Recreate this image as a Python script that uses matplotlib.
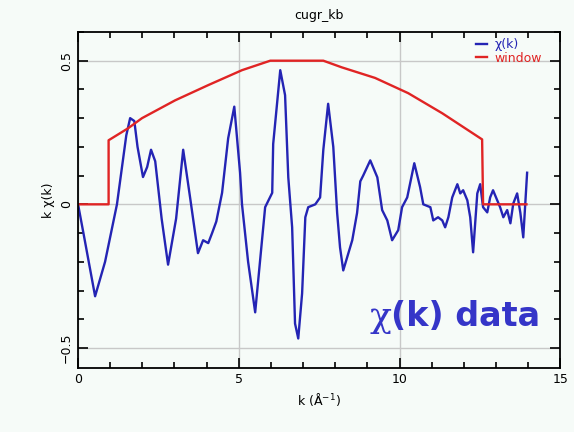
import numpy as np
import matplotlib.pyplot as plt
from matplotlib.ticker import MultipleLocator, FuncFormatter

# chi(k) trace
k = [0, 0.2, 0.53, 0.84, 1.21, 1.5, 1.62, 1.75, 1.85, 2.02, 2.15, 2.27, 2.4, 2.6, 2.80,
     3.05, 3.27, 3.49, 3.73, 3.89, 4.05, 4.17, 4.30, 4.48, 4.67, 4.86, 5.04, 5.10,
     5.29, 5.51, 5.82, 6.04, 6.07, 6.29, 6.44, 6.54, 6.66, 6.75, 6.85, 6.97, 7.07,
     7.16, 7.38, 7.53, 7.63, 7.78, 7.94, 8.06, 8.15, 8.25, 8.53, 8.68, 8.78, 8.87,
     9.09, 9.31, 9.46, 9.62, 9.77, 9.96, 10.08, 10.24, 10.46, 10.64, 10.74, 10.96,
     11.05, 11.20, 11.33, 11.42, 11.52, 11.64, 11.80, 11.89, 11.98, 12.11, 12.20,
     12.29, 12.42, 12.51, 12.60, 12.73, 12.82, 12.91, 13.04, 13.13, 13.23, 13.35,
     13.45, 13.54, 13.66, 13.76, 13.85, 13.97]
chi = [0, -0.12, -0.32, -0.2, 0.0, 0.24, 0.30, 0.29, 0.2, 0.095, 0.13, 0.19, 0.15, -0.05, -0.21,
       -0.05, 0.19, 0.02, -0.17, -0.125, -0.135, -0.10, -0.06, 0.04, 0.23, 0.34, 0.11, 0.0,
       -0.2, -0.376, -0.01, 0.04, 0.21, 0.467, 0.38, 0.094, -0.08, -0.415, -0.467, -0.31, -0.045,
       -0.01, 0.0, 0.024, 0.19, 0.35, 0.2, -0.03, -0.15, -0.23, -0.125, -0.03, 0.08, 0.1,
       0.153, 0.094, -0.02, -0.056, -0.125, -0.09, -0.01, 0.024, 0.143, 0.06, 0.0, -0.01,
       -0.056, -0.045, -0.056, -0.08, -0.045, 0.024, 0.07, 0.038, 0.049, 0.014, -0.045,
       -0.167, 0.038, 0.07, -0.01, -0.028, 0.024, 0.049, 0.014, -0.01, -0.045, -0.02,
       -0.066, 0.003, 0.038, -0.03, -0.115, 0.11]

# window function
kw = [0, 0.95, 0.95, 1.56, 1.99, 3.02, 4.05, 5.1, 5.98, 7.63, 8.2, 9.24, 10.27, 11.33,
      12.57, 12.6, 13.95]
win = [0, 0, 0.223, 0.265, 0.30, 0.362, 0.415, 0.467, 0.5, 0.5, 0.477, 0.44, 0.387,
       0.317, 0.226, 0, 0]

bg = '#f6fbf8'
blue = '#2424b4'
red = '#e02424'

fig = plt.figure(figsize=(5.74, 4.32), dpi=100, facecolor=bg)
ax = fig.add_axes([0.136, 0.148, 0.840, 0.778], facecolor=bg)

ax.plot(k, chi, color=blue, lw=1.7, label='χ(k)')
ax.plot(kw, win, color=red, lw=1.7, label='window')

ax.set_xlim(0, 15)
ax.set_ylim(-0.57, 0.6)
ax.xaxis.set_major_locator(MultipleLocator(5))
ax.xaxis.set_minor_locator(MultipleLocator(1))
ax.yaxis.set_major_locator(MultipleLocator(0.5))
ax.yaxis.set_minor_locator(MultipleLocator(0.1))
ax.yaxis.set_major_formatter(
    FuncFormatter(lambda v, p: ('%g' % v).replace('-', '\u2212') if abs(v) > 1e-9 else '0'))
ax.tick_params(which='both', direction='in', top=True, right=True, width=1.2,
               labelsize=9)
ax.tick_params(which='major', length=7)
ax.tick_params(which='minor', length=4)
for lbl in ax.get_yticklabels():
    lbl.set_rotation(90)
    lbl.set_va('center')
ax.grid(True, which='major', color='#c8c8c8', lw=1)
for s in ax.spines.values():
    s.set_linewidth(1.3)

ax.set_xlabel('k (Å$^{-1}$)', fontsize=9)
ax.set_ylabel('k χ(k)', fontsize=9)
ax.set_title('cugr_kb', fontsize=9, pad=9)

leg = ax.legend(loc='upper right', frameon=False, fontsize=9, handlelength=0.9,
                handletextpad=0.6, labelspacing=0.05, borderaxespad=0.1,
                bbox_to_anchor=(0.975, 1.0))
for txt, c in zip(leg.get_texts(), [blue, red]):
    txt.set_color(c)

t1 = ax.text(0.604, 0.152, 'χ', transform=ax.transAxes, ha='left', va='center',
             fontsize=26, family='DejaVu Serif', color='#3535c8')
ax.annotate('(k) data', xy=(1, 0.5), xycoords=t1, ha='left', va='center',
            fontsize=24, fontweight='bold', color='#3535c8')

fig.savefig('out.png', dpi=100, facecolor=bg)
